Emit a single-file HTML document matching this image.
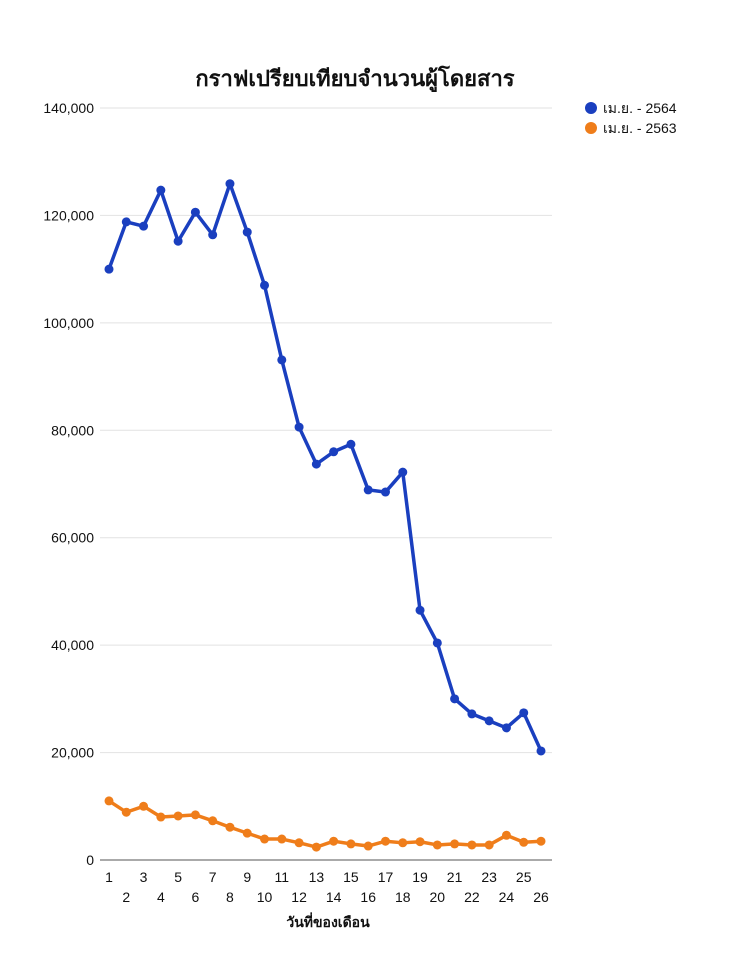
<!DOCTYPE html>
<html><head><meta charset="utf-8"><style>
body{margin:0;background:#fff;font-family:"Liberation Sans","Noto Sans CJK SC",sans-serif;}
svg text{font-family:"Liberation Sans","Noto Sans CJK SC",sans-serif;}
</style></head><body>
<svg id="c" width="730" height="960">
<text x="355" y="86" text-anchor="middle" font-size="22" font-weight="bold" fill="#111">กราฟเปรียบเทียบจำนวนผู้โดยสาร</text>
<g id="grid"></g><g id="marks"></g>
<text x="328" y="927" text-anchor="middle" font-size="14" font-weight="bold" fill="#111">วันที่ของเดือน</text>
<g>
<circle cx="591" cy="108" r="6" fill="#1a3fbf"/>
<text x="603" y="113" font-size="14" fill="#111">เม.ย. - 2564</text>
<circle cx="591" cy="128" r="6" fill="#ef7d1a"/>
<text x="603" y="133" font-size="14" fill="#111">เม.ย. - 2563</text>
</g>
</svg>
<script>
const days=[1,2,3,4,5,6,7,8,9,10,11,12,13,14,15,16,17,18,19,20,21,22,23,24,25,26];
const s2564=[110000,118800,118000,124700,115200,120600,116400,125900,116900,107000,93100,80600,73700,76000,77400,68900,68500,72200,46500,40400,30000,27200,25900,24600,27400,20300];
const s2563=[11000,8900,10000,8000,8200,8400,7300,6100,5000,3900,3900,3200,2400,3500,3000,2600,3500,3200,3400,2800,3000,2800,2800,4600,3300,3500];
const yTicks=[0,20000,40000,60000,80000,100000,120000,140000];
const NS="http://www.w3.org/2000/svg";
const X=d=>109+(d-1)*(541-109)/25;
const Y=v=>860-v*(860-108)/140000;
function mk(t,a,p){const e=document.createElementNS(NS,t);for(const k in a)e.setAttribute(k,a[k]);p.appendChild(e);return e;}
const g=document.getElementById('grid'),m=document.getElementById('marks');
yTicks.forEach(v=>{
 const l=mk('line',{x1:100,x2:552,y1:Y(v),y2:Y(v),stroke:v===0?'#555':'#e2e2e2','stroke-width':1},g);
 
 
 const t=mk('text',{x:94,y:Y(v)+5,'text-anchor':'end','font-size':14,fill:'#111'},g);
 t.textContent=v.toLocaleString('en-US');
 
 
});
days.forEach((d,i)=>{
 const t=mk('text',{x:X(d),y:i%2===0?882:902,'text-anchor':'middle','font-size':14,fill:'#111'},g);
 t.textContent=d;
 
 
});
function series(vals,color,name){
 const p=mk('polyline',{points:vals.map((v,i)=>X(days[i])+','+Y(v)).join(' '),fill:'none',stroke:color,'stroke-width':3.5,'stroke-linejoin':'round'},m);
 
 
 vals.forEach((v,i)=>{
  const c=mk('circle',{cx:X(days[i]),cy:Y(v),r:4.5,fill:color},m);
  
  
 });
}
series(s2563,'#ef7d1a','2563');
series(s2564,'#1a3fbf','2564');
</script>
</body></html>
